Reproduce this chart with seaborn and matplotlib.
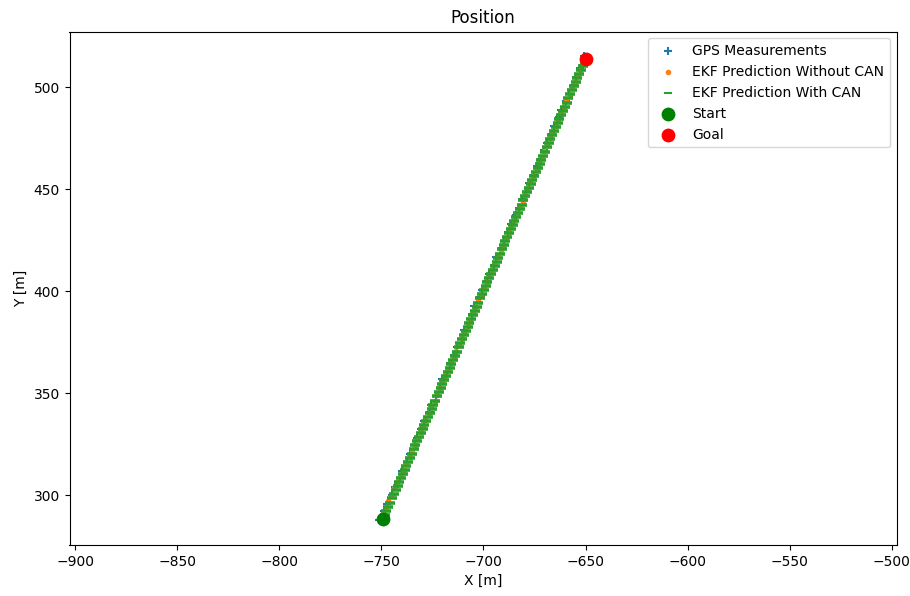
import matplotlib
matplotlib.use("Agg")
import matplotlib.pyplot as plt
import pandas as pd
import seaborn as sns

# GPS fixes along the drive
gps_x = [-751.2, -748.6, -747.4, -744.7, -743.5, -740.8, -740.1, -737.7, -736.2, -733.6,
         -732.8, -730.4, -729.0, -726.4, -725.6, -723.3, -721.5, -720.1, -717.9, -716.4,
         -714.5, -713.0, -710.7, -709.4, -707.3, -705.7, -704.5, -701.8, -700.5, -698.3,
         -697.1, -694.9, -693.7, -691.1, -690.0, -687.8, -686.6, -684.3, -682.4, -681.1,
         -679.1, -677.7, -675.4, -673.9, -671.9, -670.5, -668.7, -666.3, -665.3, -663.1,
         -662.1, -659.5, -658.1, -655.8, -654.8, -652.6, -650.9, -650.5]
gps_y = [287.9, 292.3, 295.8, 300.4, 304.1, 308.6, 312.0, 316.5, 320.3, 324.7,
         328.2, 332.6, 336.4, 340.9, 344.3, 348.8, 352.5, 356.9, 360.4, 364.8,
         368.6, 372.9, 376.5, 380.8, 384.7, 388.9, 392.6, 397.1, 400.5, 404.9,
         408.7, 413.0, 416.8, 421.1, 424.6, 429.0, 432.8, 437.2, 440.7, 445.1,
         448.9, 453.2, 456.8, 461.2, 464.9, 469.3, 472.7, 477.1, 480.9, 485.2,
         488.8, 493.1, 496.9, 501.3, 504.8, 509.2, 512.6, 515.3]

# EKF estimate, odometry from CAN not used
ekf_x = [-750.2, -748.5, -747.5, -746.7, -745.5, -744.0, -742.2, -740.4, -738.9, -737.9,
         -736.0, -735.0, -733.5, -732.4, -730.7, -729.5, -728.5, -726.7, -725.5, -723.9,
         -723.0, -721.3, -720.1, -719.0, -717.3, -716.1, -714.4, -713.5, -711.9, -710.5,
         -709.5, -707.7, -706.7, -705.1, -704.0, -702.5, -700.9, -699.9, -698.4, -697.3,
         -695.8, -694.2, -693.1, -691.6, -690.5, -689.0, -687.5, -686.4, -684.9, -683.8,
         -682.2, -680.7, -679.6, -678.1, -677.1, -675.5, -674.0, -672.9, -671.3, -670.3,
         -668.7, -667.2, -666.2, -664.6, -663.6, -662.0, -660.4, -659.4, -657.8, -656.8,
         -655.2, -653.7, -652.7, -651.1, -649.6]
ekf_y = [288.0, 291.1, 294.3, 297.2, 300.3, 303.4, 306.5, 309.5, 312.6, 315.6,
         318.8, 321.8, 324.9, 327.9, 331.0, 334.1, 337.1, 340.2, 343.3, 346.3,
         349.4, 352.4, 355.5, 358.6, 361.6, 364.7, 367.8, 370.8, 373.9, 376.9,
         380.0, 383.1, 386.1, 389.2, 392.3, 395.3, 398.4, 401.4, 404.5, 407.6,
         410.6, 413.7, 416.8, 419.8, 422.9, 425.9, 429.0, 432.1, 435.1, 438.2,
         441.3, 444.3, 447.4, 450.4, 453.5, 456.6, 459.6, 462.7, 465.8, 468.8,
         471.9, 474.9, 478.0, 481.1, 484.1, 487.2, 490.3, 493.3, 496.4, 499.4,
         502.5, 505.6, 508.6, 511.7, 514.6]

# EKF estimate fused with CAN odometry
can_x = [-749.2, -748.3, -747.5, -746.6, -745.7, -744.8, -743.8, -743.0, -742.1, -741.3,
         -740.4, -739.5, -738.6, -737.8, -736.9, -736.0, -735.1, -734.2, -733.4, -732.4,
         -731.6, -730.7, -729.8, -728.9, -728.0, -727.2, -726.3, -725.4, -724.5, -723.6,
         -722.7, -721.9, -721.0, -720.1, -719.2, -718.3, -717.5, -716.6, -715.7, -714.8,
         -713.9, -713.0, -712.2, -711.3, -710.4, -709.5, -708.6, -707.8, -706.9, -706.0,
         -705.1, -704.2, -703.3, -702.5, -701.6, -700.7, -699.8, -698.9, -698.1, -697.2,
         -696.3, -695.4, -694.5, -693.6, -692.8, -691.9, -691.0, -690.1, -689.2, -688.4,
         -687.5, -686.6, -685.7, -684.8, -683.9, -683.1, -682.2, -681.3, -680.4, -679.5,
         -678.7, -677.8, -676.9, -676.0, -675.1, -674.2, -673.4, -672.5, -671.6, -670.7,
         -669.8, -669.0, -668.1, -667.2, -666.3, -665.4, -664.5, -663.7, -662.8, -661.9,
         -661.0, -660.1, -659.3, -658.4, -657.5, -656.6, -655.7, -654.8, -654.0, -653.1,
         -652.2, -651.3, -650.4, -649.8]
can_y = [288.5, 290.5, 292.5, 294.5, 296.5, 298.5, 300.5, 302.5, 304.5, 306.5,
         308.5, 310.5, 312.5, 314.5, 316.5, 318.5, 320.5, 322.5, 324.5, 326.5,
         328.5, 330.5, 332.5, 334.5, 336.5, 338.5, 340.5, 342.5, 344.5, 346.5,
         348.5, 350.5, 352.5, 354.5, 356.5, 358.5, 360.5, 362.5, 364.5, 366.5,
         368.5, 370.5, 372.5, 374.5, 376.5, 378.5, 380.5, 382.5, 384.5, 386.5,
         388.5, 390.5, 392.5, 394.5, 396.5, 398.5, 400.5, 402.5, 404.5, 406.5,
         408.5, 410.5, 412.5, 414.5, 416.5, 418.5, 420.5, 422.5, 424.5, 426.5,
         428.5, 430.5, 432.5, 434.5, 436.5, 438.5, 440.5, 442.5, 444.5, 446.5,
         448.5, 450.5, 452.5, 454.5, 456.5, 458.5, 460.5, 462.5, 464.5, 466.5,
         468.5, 470.5, 472.5, 474.5, 476.5, 478.5, 480.5, 482.5, 484.5, 486.5,
         488.5, 490.5, 492.5, 494.5, 496.5, 498.5, 500.5, 502.5, 504.5, 506.5,
         508.5, 510.5, 512.5, 513.9]

start_xy = (-749.2, 288.5)
goal_xy = (-649.8, 513.9)

gps = pd.DataFrame({"x": gps_x, "y": gps_y})
ekf = pd.DataFrame({"x": ekf_x, "y": ekf_y})
can = pd.DataFrame({"x": can_x, "y": can_y})

fig = plt.figure(figsize=(9.1, 5.96), dpi=100)
ax = fig.add_axes([69.5 / 910, 51 / 596, 827.5 / 910, 513.5 / 596])

sns.scatterplot(data=gps, x="x", y="y", marker="+", color="#1f77b4", s=36,
                linewidth=1.5, label="GPS Measurements", ax=ax)
sns.scatterplot(data=ekf, x="x", y="y", marker=".", color="#ff7f0e", s=36,
                edgecolor="#ff7f0e", linewidth=1.0, label="EKF Prediction Without CAN", ax=ax)
sns.scatterplot(data=can, x="x", y="y", marker="_", color="#2ca02c", s=49,
                linewidth=2.6, label="EKF Prediction With CAN", ax=ax)
sns.scatterplot(x=[start_xy[0]], y=[start_xy[1]], color="green", edgecolor="green",
                linewidth=1.0, s=80, label="Start", ax=ax)
sns.scatterplot(x=[goal_xy[0]], y=[goal_xy[1]], color="red", edgecolor="red",
                linewidth=1.0, s=80, label="Goal", ax=ax)

ax.set_xlim(-902.8, -497.4)
ax.set_ylim(275.7, 527.3)
ax.set_title("Position")
ax.set_xlabel("X [m]")
ax.set_ylabel("Y [m]")
leg = ax.legend(loc="upper right")
# keep the legend dash at the standard stroke width
leg.legend_handles[2].set_linewidth(1.5)
leg.legend_handles[2].set_sizes([36])

fig.savefig("out.png", dpi=100)
